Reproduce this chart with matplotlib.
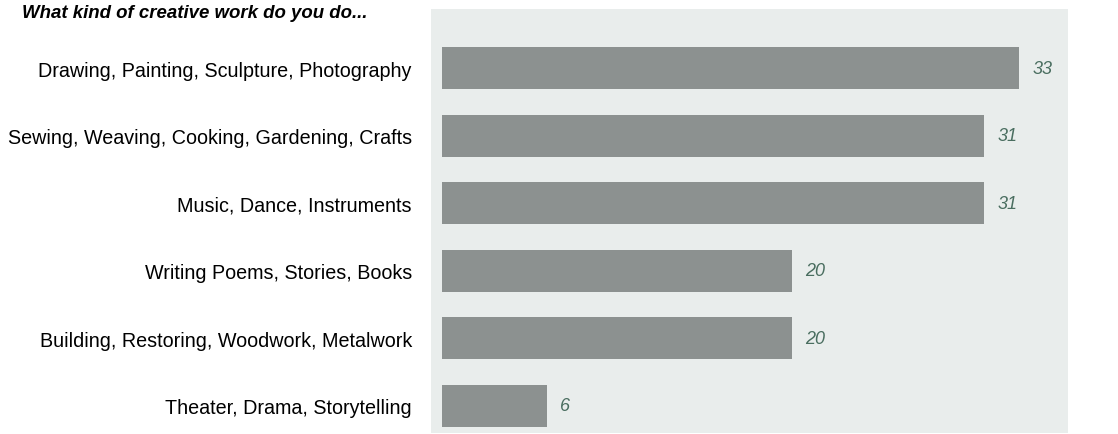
import matplotlib.pyplot as plt

categories = ["Drawing, Painting, Sculpture, Photography",
              "Sewing, Weaving, Cooking, Gardening, Crafts",
              "Music, Dance, Instruments",
              "Writing Poems, Stories, Books",
              "Building, Restoring, Woodwork, Metalwork",
              "Theater, Drama, Storytelling"]
values = [33, 31, 31, 20, 20, 6]
title = "What kind of creative work do you do..."

bar_color = "#8c9190"
panel_color = "#e9edec"
label_color = "#4a6e60"

fig = plt.figure(figsize=(11.18, 4.35), dpi=100)
ax = fig.add_axes([431 / 1118, 1 - 434 / 435, 637 / 1118, 424 / 435])
ax.set_facecolor(panel_color)

pos = range(len(categories))
ax.barh(pos, values, height=0.62, color=bar_color)
for p, v in zip(pos, values):
    ax.annotate(str(v), (v, p), xytext=(9.4, 0), textcoords="offset points",
                va="center", ha="left", style="italic", fontsize=13,
                color=label_color, family="Liberation Sans")

ax.set_xlim(-0.63, 35.8)
ax.set_ylim(5.4, -0.873)
ax.set_yticks(list(pos))
ax.set_yticklabels(categories, fontsize=14.2, family="Liberation Sans")
ax.tick_params(axis="y", length=0, pad=13.8)
ax.set_xticks([])
for s in ax.spines.values():
    s.set_visible(False)

fig.text(22 / 1118, 1 - 13 / 435, title, fontsize=13.4, fontweight="bold",
         style="italic", va="center", ha="left", family="Liberation Sans")

fig.savefig("out.png", dpi=100)
